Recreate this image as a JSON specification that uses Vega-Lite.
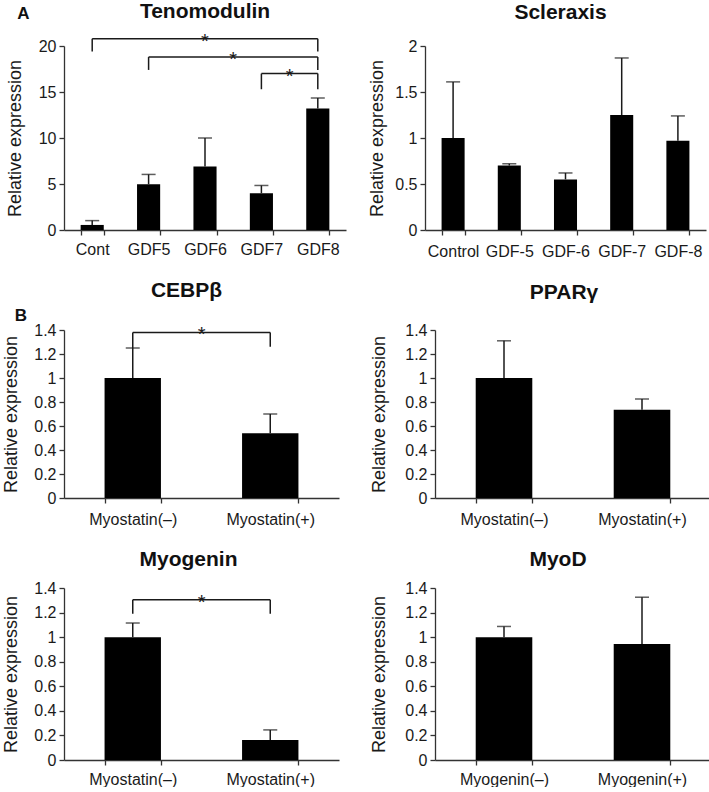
{
  "$schema": "https://vega.github.io/schema/vega-lite/v6.json",
  "padding": {"left": 2, "top": 0, "right": 0, "bottom": 0},
  "background": "white",
  "config": {
    "font": "Liberation Sans",
    "view": {"stroke": null},
    "axis": {"labelFont": "Liberation Sans", "labelFontSize": 16, "labelColor": "#1a1a1a", "titleFont": "Liberation Sans", "titleFontSize": 18, "titleFontWeight": "normal", "titleColor": "#1a1a1a", "domainColor": "#333", "tickColor": "#333", "domainWidth": 1.3, "tickWidth": 1.3, "grid": false, "tickSize": 5, "labelOverlap": false},
    "axisX": {"tickBand": "extent", "labelAngle": 0, "labelPadding": 6},
    "axisY": {"labelPadding": 3, "format": "~g", "tickCount": 10},
    "title": {"font": "Liberation Sans", "fontSize": 21, "fontWeight": "bold", "color": "#111", "baseline": "alphabetic"},
    "bar": {"color": "#000"},
    "rule": {"color": "#1a1a1a", "strokeWidth": 1.5},
    "tick": {"color": "#1a1a1a", "thickness": 1.5},
    "text": {"font": "Liberation Sans", "fontSize": 20, "color": "#1a1a1a", "baseline": "alphabetic", "dy": 9}
  },
  "datasets": {
    "teno": [
      {"cat": "Cont", "value": 0.55, "upper": 1.02},
      {"cat": "GDF5", "value": 4.98, "upper": 6.04},
      {"cat": "GDF6", "value": 6.9, "upper": 10.0},
      {"cat": "GDF7", "value": 4.0, "upper": 4.84},
      {"cat": "GDF8", "value": 13.2, "upper": 14.35}
    ],
    "teno_h": [
      {"from": "Cont", "to": "GDF8", "y": 20.8},
      {"from": "GDF5", "to": "GDF8", "y": 18.8},
      {"from": "GDF7", "to": "GDF8", "y": 17.0}
    ],
    "teno_v": [
      {"cat": "Cont", "y": 20.8, "y2": 19.4},
      {"cat": "GDF8", "y": 20.8, "y2": 19.4},
      {"cat": "GDF5", "y": 18.8, "y2": 17.4},
      {"cat": "GDF8", "y": 18.8, "y2": 17.4},
      {"cat": "GDF7", "y": 17.0, "y2": 15.3},
      {"cat": "GDF8", "y": 17.0, "y2": 15.3}
    ],
    "teno_s1": [{"cat": "GDF6", "y": 20.8, "label": "*"}],
    "teno_s2": [{"cat": "GDF6", "y": 18.8, "label": "*"}, {"cat": "GDF7", "y": 17.0, "label": "*"}],
    "scler": [
      {"cat": "Control", "value": 1.0, "upper": 1.61},
      {"cat": "GDF-5", "value": 0.70, "upper": 0.72},
      {"cat": "GDF-6", "value": 0.55, "upper": 0.62},
      {"cat": "GDF-7", "value": 1.25, "upper": 1.87},
      {"cat": "GDF-8", "value": 0.97, "upper": 1.24}
    ],
    "cebp": [
      {"cat": "Myostatin(–)", "value": 1.0, "upper": 1.25},
      {"cat": "Myostatin(+)", "value": 0.54, "upper": 0.70}
    ],
    "cebp_h": [{"from": "Myostatin(–)", "to": "Myostatin(+)", "y": 1.38}],
    "cebp_v": [{"cat": "Myostatin(–)", "y": 1.38, "y2": 1.25}, {"cat": "Myostatin(+)", "y": 1.38, "y2": 1.26}],
    "cebp_s": [{"cat": "Myostatin(–)", "y": 1.38, "label": "*"}],
    "ppar": [
      {"cat": "Myostatin(–)", "value": 1.0, "upper": 1.31},
      {"cat": "Myostatin(+)", "value": 0.735, "upper": 0.825}
    ],
    "myog": [
      {"cat": "Myostatin(–)", "value": 1.0, "upper": 1.115},
      {"cat": "Myostatin(+)", "value": 0.163, "upper": 0.245}
    ],
    "myog_h": [{"from": "Myostatin(–)", "to": "Myostatin(+)", "y": 1.305}],
    "myog_v": [{"cat": "Myostatin(–)", "y": 1.305, "y2": 1.19}, {"cat": "Myostatin(+)", "y": 1.305, "y2": 1.19}],
    "myog_s": [{"cat": "Myostatin(–)", "y": 1.305, "label": "*"}],
    "myod": [
      {"cat": "Myogenin(–)", "value": 1.0, "upper": 1.087},
      {"cat": "Myogenin(+)", "value": 0.945, "upper": 1.325}
    ]
  },
  "spacing": 21,
  "vconcat": [
    {
      "title": {"text": "A", "anchor": "start", "frame": "bounds", "offset": -35, "fontSize": 17, "dx": 11, "baseline": "alphabetic"},
      "spacing": 22,
      "hconcat": [
        {
          "width": 282, "height": 184,
          "title": {"text": "Tenomodulin", "frame": "group", "offset": 10},
          "layer": [
            {"data": {"name": "teno"}, "mark": "bar",
             "encoding": {
               "x": {"field": "cat", "type": "nominal", "title": null, "scale": {"domain": ["Cont", "GDF5", "GDF6", "GDF7", "GDF8"], "paddingInner": 0.59, "paddingOuter": 0.295}, "axis": {"labelPadding": 6}},
               "y": {"field": "value", "type": "quantitative", "title": "Relative expression", "scale": {"domain": [0, 20]}, "axis": {"values": [0, 5, 10, 15, 20], "titlePadding": 14}}}},
            {"data": {"name": "teno"}, "mark": "rule",
             "encoding": {"x": {"field": "cat", "type": "nominal", "title": null}, "y": {"field": "value", "type": "quantitative", "title": "Relative expression"}, "y2": {"field": "upper"}}},
            {"data": {"name": "teno"}, "mark": {"type": "tick", "size": 14},
             "encoding": {"x": {"field": "cat", "type": "nominal", "title": null}, "y": {"field": "upper", "type": "quantitative", "title": "Relative expression"}}},
            {"data": {"name": "teno_h"}, "mark": "rule",
             "encoding": {"x": {"field": "from", "type": "nominal", "title": null}, "x2": {"field": "to"}, "y": {"field": "y", "type": "quantitative", "title": "Relative expression"}}},
            {"data": {"name": "teno_v"}, "mark": "rule",
             "encoding": {"x": {"field": "cat", "type": "nominal", "title": null}, "y": {"field": "y", "type": "quantitative", "title": "Relative expression"}, "y2": {"field": "y2"}}},
            {"data": {"name": "teno_s1"}, "mark": "text",
             "encoding": {"x": {"field": "cat", "type": "nominal", "title": null, "bandPosition": 0.5}, "y": {"field": "y", "type": "quantitative", "title": "Relative expression"}, "text": {"field": "label"}}},
            {"data": {"name": "teno_s2"}, "mark": "text",
             "encoding": {"x": {"field": "cat", "type": "nominal", "title": null, "bandPosition": 1.72}, "y": {"field": "y", "type": "quantitative", "title": "Relative expression"}, "text": {"field": "label"}}}
          ]
        },
        {
          "width": 281, "height": 184,
          "title": {"text": "Scleraxis", "frame": "group", "offset": 15, "dx": -5},
          "layer": [
            {"data": {"name": "scler"}, "mark": "bar",
             "encoding": {
               "x": {"field": "cat", "type": "nominal", "title": null, "scale": {"domain": ["Control", "GDF-5", "GDF-6", "GDF-7", "GDF-8"], "paddingInner": 0.59, "paddingOuter": 0.295}, "axis": {"labelPadding": 8}},
               "y": {"field": "value", "type": "quantitative", "title": "Relative expression", "scale": {"domain": [0, 2]}, "axis": {"values": [0, 0.5, 1, 1.5, 2], "titlePadding": 8}}}},
            {"data": {"name": "scler"}, "mark": "rule",
             "encoding": {"x": {"field": "cat", "type": "nominal", "title": null}, "y": {"field": "value", "type": "quantitative", "title": "Relative expression"}, "y2": {"field": "upper"}}},
            {"data": {"name": "scler"}, "mark": {"type": "tick", "size": 14},
             "encoding": {"x": {"field": "cat", "type": "nominal", "title": null}, "y": {"field": "upper", "type": "quantitative", "title": "Relative expression"}}}
          ]
        }
      ]
    },
    {
      "title": {"text": "B", "anchor": "start", "frame": "bounds", "offset": -58, "fontSize": 17, "dx": 12, "baseline": "alphabetic"},
      "columns": 2,
      "spacing": {"row": 22, "column": 31},
      "concat": [
        {
          "width": 275, "height": 168,
          "title": {"text": "CEBPβ", "frame": "group", "offset": 21, "dx": -15},
          "layer": [
            {"data": {"name": "cebp"}, "mark": "bar",
             "encoding": {
               "x": {"field": "cat", "type": "nominal", "title": null, "scale": {"domain": ["Myostatin(–)", "Myostatin(+)"], "paddingInner": 0.59, "paddingOuter": 0.295}, "axis": {"labelPadding": 8}},
               "y": {"field": "value", "type": "quantitative", "title": "Relative expression", "scale": {"domain": [0, 1.4]}, "axis": {"values": [0, 0.2, 0.4, 0.6, 0.8, 1, 1.2, 1.4], "titlePadding": 13}}}},
            {"data": {"name": "cebp"}, "mark": "rule",
             "encoding": {"x": {"field": "cat", "type": "nominal", "title": null}, "y": {"field": "value", "type": "quantitative", "title": "Relative expression"}, "y2": {"field": "upper"}}},
            {"data": {"name": "cebp"}, "mark": {"type": "tick", "size": 14},
             "encoding": {"x": {"field": "cat", "type": "nominal", "title": null}, "y": {"field": "upper", "type": "quantitative", "title": "Relative expression"}}},
            {"data": {"name": "cebp_h"}, "mark": "rule",
             "encoding": {"x": {"field": "from", "type": "nominal", "title": null}, "x2": {"field": "to"}, "y": {"field": "y", "type": "quantitative", "title": "Relative expression"}}},
            {"data": {"name": "cebp_v"}, "mark": "rule",
             "encoding": {"x": {"field": "cat", "type": "nominal", "title": null}, "y": {"field": "y", "type": "quantitative", "title": "Relative expression"}, "y2": {"field": "y2"}}},
            {"data": {"name": "cebp_s"}, "mark": "text",
             "encoding": {"x": {"field": "cat", "type": "nominal", "title": null, "bandPosition": 1.72}, "y": {"field": "y", "type": "quantitative", "title": "Relative expression"}, "text": {"field": "label"}}}
          ]
        },
        {
          "width": 276, "height": 168,
          "title": {"text": "PPARγ", "frame": "group", "offset": 19, "dx": -9},
          "layer": [
            {"data": {"name": "ppar"}, "mark": "bar",
             "encoding": {
               "x": {"field": "cat", "type": "nominal", "title": null, "scale": {"domain": ["Myostatin(–)", "Myostatin(+)"], "paddingInner": 0.59, "paddingOuter": 0.295}, "axis": {"labelPadding": 8}},
               "y": {"field": "value", "type": "quantitative", "title": "Relative expression", "scale": {"domain": [0, 1.4]}, "axis": {"values": [0, 0.2, 0.4, 0.6, 0.8, 1, 1.2, 1.4], "titlePadding": 16}}}},
            {"data": {"name": "ppar"}, "mark": "rule",
             "encoding": {"x": {"field": "cat", "type": "nominal", "title": null}, "y": {"field": "value", "type": "quantitative", "title": "Relative expression"}, "y2": {"field": "upper"}}},
            {"data": {"name": "ppar"}, "mark": {"type": "tick", "size": 14},
             "encoding": {"x": {"field": "cat", "type": "nominal", "title": null}, "y": {"field": "upper", "type": "quantitative", "title": "Relative expression"}}}
          ]
        },
        {
          "width": 275, "height": 172,
          "title": {"text": "Myogenin", "frame": "group", "offset": 10, "dx": -13},
          "layer": [
            {"data": {"name": "myog"}, "mark": "bar",
             "encoding": {
               "x": {"field": "cat", "type": "nominal", "title": null, "scale": {"domain": ["Myostatin(–)", "Myostatin(+)"], "paddingInner": 0.59, "paddingOuter": 0.295}, "axis": {"labelPadding": 6}},
               "y": {"field": "value", "type": "quantitative", "title": "Relative expression", "scale": {"domain": [0, 1.4]}, "axis": {"values": [0, 0.2, 0.4, 0.6, 0.8, 1, 1.2, 1.4], "titlePadding": 13}}}},
            {"data": {"name": "myog"}, "mark": "rule",
             "encoding": {"x": {"field": "cat", "type": "nominal", "title": null}, "y": {"field": "value", "type": "quantitative", "title": "Relative expression"}, "y2": {"field": "upper"}}},
            {"data": {"name": "myog"}, "mark": {"type": "tick", "size": 14},
             "encoding": {"x": {"field": "cat", "type": "nominal", "title": null}, "y": {"field": "upper", "type": "quantitative", "title": "Relative expression"}}},
            {"data": {"name": "myog_h"}, "mark": "rule",
             "encoding": {"x": {"field": "from", "type": "nominal", "title": null}, "x2": {"field": "to"}, "y": {"field": "y", "type": "quantitative", "title": "Relative expression"}}},
            {"data": {"name": "myog_v"}, "mark": "rule",
             "encoding": {"x": {"field": "cat", "type": "nominal", "title": null}, "y": {"field": "y", "type": "quantitative", "title": "Relative expression"}, "y2": {"field": "y2"}}},
            {"data": {"name": "myog_s"}, "mark": "text",
             "encoding": {"x": {"field": "cat", "type": "nominal", "title": null, "bandPosition": 1.72}, "y": {"field": "y", "type": "quantitative", "title": "Relative expression"}, "text": {"field": "label"}}}
          ]
        },
        {
          "width": 276, "height": 172,
          "title": {"text": "MyoD", "frame": "group", "offset": 10, "dx": -15},
          "layer": [
            {"data": {"name": "myod"}, "mark": "bar",
             "encoding": {
               "x": {"field": "cat", "type": "nominal", "title": null, "scale": {"domain": ["Myogenin(–)", "Myogenin(+)"], "paddingInner": 0.59, "paddingOuter": 0.295}, "axis": {"labelPadding": 6}},
               "y": {"field": "value", "type": "quantitative", "title": "Relative expression", "scale": {"domain": [0, 1.4]}, "axis": {"values": [0, 0.2, 0.4, 0.6, 0.8, 1, 1.2, 1.4], "titlePadding": 16}}}},
            {"data": {"name": "myod"}, "mark": "rule",
             "encoding": {"x": {"field": "cat", "type": "nominal", "title": null}, "y": {"field": "value", "type": "quantitative", "title": "Relative expression"}, "y2": {"field": "upper"}}},
            {"data": {"name": "myod"}, "mark": {"type": "tick", "size": 14},
             "encoding": {"x": {"field": "cat", "type": "nominal", "title": null}, "y": {"field": "upper", "type": "quantitative", "title": "Relative expression"}}}
          ]
        }
      ]
    }
  ]
}
